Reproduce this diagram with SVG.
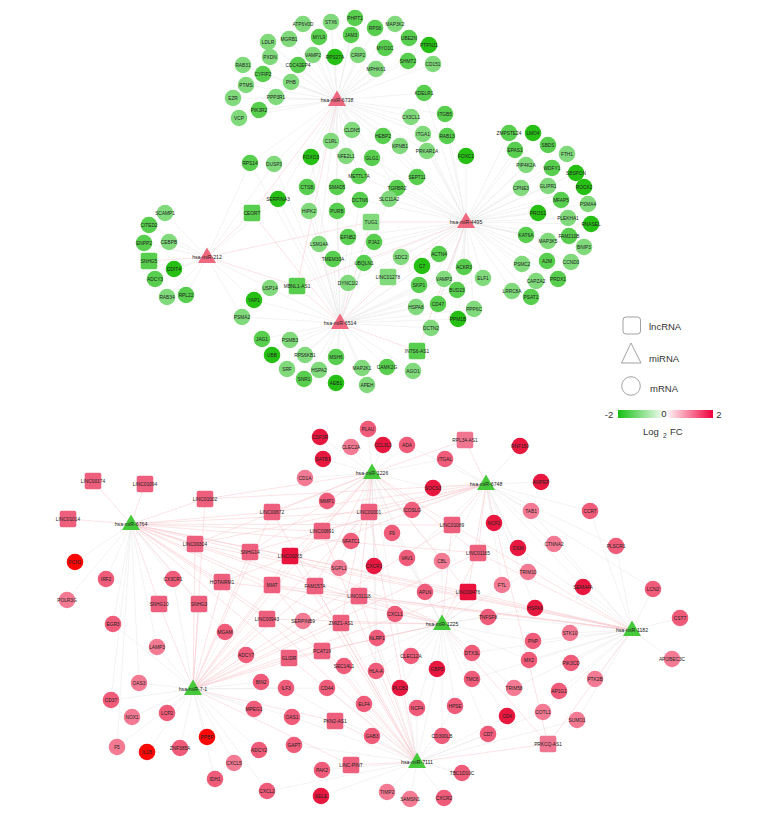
<svg xmlns="http://www.w3.org/2000/svg" xmlns:xlink="http://www.w3.org/1999/xlink" width="771" height="825" viewBox="0 0 771 825">
<style>
text{font-family:"Liberation Sans",Arial,sans-serif;font-size:4.8px;text-anchor:middle;dominant-baseline:central;fill:#222}
.hl{font-size:5.2px}
.lg{font-size:9.5px;text-anchor:start;fill:#333}
.gl{fill:#80da7c}.gm{fill:#57ce4d}.gd{fill:#26c014}
.rl{fill:#f37a92}.rm{fill:#ef5b79}.rd{fill:#e8173f}.rb{fill:#fd0606}
.sl{fill:#f07590}.sm{fill:#ee5f7e}.sd{fill:#e8123c}
.hp{fill:#f0687f}.hg{fill:#46c93a}
.e{stroke:#e6e6e6;stroke-width:.5;fill:none}
.p{stroke:#f8c6cd;stroke-width:.5;fill:none}
</style>
<defs>
<rect id="sq" x="-8.3" y="-8.3" width="16.6" height="16.6" rx="2"/>
<path id="tri" d="M0,-9.5L9,6H-9Z"/>
<linearGradient id="cb" x1="0" x2="1" y1="0" y2="0">
<stop offset="0" stop-color="#14c014"/><stop offset="0.5" stop-color="#ffffff"/><stop offset="1" stop-color="#f0003c"/>
</linearGradient>
</defs>
<rect width="771" height="825" fill="#fff"/>
<g id="connectors">
<path class="e" d="M337 100L303 24M337 100L331 22M337 100L355 18M337 100L319 37M337 100L351 35M337 100L268 42M337 100L289 39M337 100L335 57M337 100L313 55M337 100L358 55M337 100L270 57M337 100L243 65M337 100L298 65M337 100L263 74M337 100L291 82M337 100L246 85M337 100L233 98M337 100L276 97M337 100L259 110M337 100L239 118M337 100L375 28M337 100L395 24M337 100L409 38M337 100L429 45M337 100L385 48M337 100L408 61M337 100L433 64M337 100L376 69M337 100L424 93M337 100L352 130M337 100L331 141M337 100L445 114M337 100L411 117M337 100L383 136M337 100L423 134M337 100L447 136M337 100L400 146M337 100L427 151M337 100L372 158M337 100L417 177M337 100L397 188M337 100L250 163M337 100L274 164M337 100L311 157M337 100L346 156M337 100L359 176M337 100L307 187M337 100L337 187M337 100L309 211M337 100L337 211M337 100L319 244M337 100L278 199"/>
<path class="e" d="M466 222L509 133M466 222L533 133M466 222L515 150M466 222L548 145M466 222L567 154M466 222L526 165M466 222L552 168M466 222L576 173M466 222L521 188M466 222L548 186M466 222L584 187M466 222L561 200M466 222L588 204M466 222L538 213M466 222L568 218M466 222L591 224M466 222L526 235M466 222L548 241M466 222L569 236M466 222L584 247M466 222L522 264M466 222L547 261M466 222L571 262M466 222L536 281M466 222L558 279M466 222L512 291M466 222L531 297M466 222L466 156M466 222L445 114M466 222L411 117M466 222L383 136M466 222L423 134M466 222L447 136M466 222L400 146M466 222L427 151M466 222L372 158M466 222L417 177M466 222L397 188M466 222L359 176M466 222L346 156M466 222L360 200M466 222L389 199M466 222L348 237M466 222L333 259M466 222L374 242M466 222L364 263M466 222L348 283M466 222L401 257M466 222L439 254M466 222L422 266M466 222L464 267M466 222L444 279M466 222L483 278M466 222L419 285M466 222L457 290M466 222L416 307M466 222L438 304M466 222L474 309M466 222L458 319M466 222L431 328M466 222L424 93"/>
<path class="e" d="M340 323L262 339M340 323L290 340M340 323L272 355M340 323L305 355M340 323L336 357M340 323L287 369M340 323L319 370M340 323L362 368M340 323L387 367M340 323L413 371M340 323L304 379M340 323L336 383M340 323L367 385M340 323L270 288M340 323L254 300M340 323L242 317M340 323L348 283M340 323L364 263M340 323L374 242M340 323L401 257M340 323L333 259M340 323L319 244M340 323L348 237M340 323L309 211M340 323L337 211M340 323L278 199M340 323L360 200M340 323L389 199M340 323L439 254M340 323L422 266M340 323L464 267M340 323L444 279M340 323L483 278M340 323L419 285M340 323L457 290M340 323L416 307M340 323L438 304M340 323L474 309M340 323L458 319M340 323L431 328M340 323L307 187M340 323L337 187M340 323L250 163M340 323L274 164M340 323L311 157"/>
<path class="e" d="M207 257L165 213M207 257L149 225M207 257L144 243M207 257L169 242M207 257L174 269M207 257L155 279M207 257L167 297M207 257L186 295M207 257L270 288M207 257L254 300M207 257L242 317M207 257L250 163M207 257L274 164M207 257L278 199"/>
<path class="p" d="M337 100L252 213M337 100L297 286M466 222L371 222M466 222L388 277M466 222L417 351M466 222L297 286M340 323L252 213M340 323L297 286M340 323L371 222M340 323L388 277M340 323L417 351M207 257L149 261M207 257L252 213M207 257L297 286M207 257L371 222"/>
<path class="e" d="M131 524L75 562M131 524L106 579M131 524L173 579M131 524L67 600M131 524L113 624M131 524L157 647M131 524L111 700M131 524L117 747M131 524L139 683M131 524L225 632"/>
<path class="e" d="M372 473L368 429M372 473L320 437M372 473L351 447M372 473L383 445M372 473L407 445M372 473L323 459M372 473L445 459M372 473L305 478M372 473L433 488M372 473L327 501M372 473L412 510M372 473L392 533M372 473L351 541M372 473L407 558M372 473L339 568M372 473L374 566M372 473L442 561M372 473L425 592M372 473L377 638M372 473L376 671M372 473L395 614"/>
<path class="e" d="M486 484L520 446M486 484L541 482M486 484L531 511M486 484L494 523M486 484L518 548M486 484L554 544M486 484L590 511M486 484L445 459M486 484L433 488M486 484L528 572M486 484L502 585M486 484L442 561M486 484L412 510M486 484L583 587M486 484L616 546M486 484L407 445M486 484L407 558M486 484L535 608M486 484L653 589"/>
<path class="e" d="M442 624L395 614M442 624L377 638M442 624L411 656M442 624L472 653M442 624L376 671M442 624L437 669M442 624L472 679M442 624L400 688M442 624L417 708M442 624L455 706M442 624L488 617M442 624L425 592M442 624L442 561M442 624L407 558M442 624L392 533M442 624L502 585M442 624L528 572M442 624L533 641M442 624L529 660M442 624L514 688M442 624L442 736M442 624L507 716M442 624L488 734M442 624L344 666M442 624L535 608"/>
<path class="e" d="M632 630L680 618M632 630L672 659M632 630L570 633M632 630L535 608M632 630L533 641M632 630L529 660M632 630L571 663M632 630L595 679M632 630L559 691M632 630L514 688M632 630L583 587M632 630L653 589M632 630L616 546M632 630L590 511M632 630L577 720M632 630L543 712M632 630L488 617M632 630L472 653M632 630L472 679M632 630L554 544M632 630L531 511M632 630L518 548"/>
<path class="e" d="M193 689L225 632M193 689L157 647M193 689L246 655M193 689L139 683M193 689L261 682M193 689L111 700M193 689L132 717M193 689L167 713M193 689L254 709M193 689L207 737M193 689L117 747M193 689L147 752M193 689L180 748M193 689L259 750M193 689L234 763M193 689L215 779M193 689L267 791M193 689L286 688M193 689L113 624M193 689L173 579M193 689L327 688M193 689L292 717"/>
<path class="e" d="M417 762L322 770M417 762L321 796M417 762L387 792M417 762L410 799M417 762L444 798M417 762L462 773M417 762L372 736M417 762L442 736M417 762L488 734M417 762L364 704M417 762L417 708M417 762L294 745M417 762L292 717M417 762L327 688M417 762L376 671M417 762L507 716M417 762L543 712M417 762L455 706M417 762L400 688M417 762L267 791M417 762L286 688M417 762L344 666M417 762L377 638M417 762L437 669M417 762L395 614M417 762L577 720"/>
<path class="p" d="M131 524L93 481M131 524L145 484M131 524L68 519M131 524L205 499M131 524L195 544M131 524L250 552M131 524L272 512M131 524L322 531M131 524L290 556M131 524L222 582M131 524L272 585M131 524L159 604M131 524L199 604M131 524L315 586M131 524L359 596M131 524L468 592M131 524L478 553M131 524L452 525M131 524L369 512M131 524L267 619M131 524L341 623M131 524L322 651M131 524L289 658"/>
<path class="p" d="M372 473L369 512M372 473L322 531M372 473L272 512M372 473L465 440M372 473L290 556M372 473L359 596M372 473L315 586M372 473L205 499M372 473L195 544M372 473L250 552M372 473L452 525M372 473L272 585M372 473L341 623M372 473L468 592M372 473L478 553"/>
<path class="p" d="M486 484L465 440M486 484L452 525M486 484L478 553M486 484L468 592M486 484L369 512M486 484L272 512M486 484L322 531M486 484L205 499M486 484L195 544M486 484L250 552M486 484L548 744M486 484L222 582"/>
<path class="p" d="M442 624L468 592M442 624L478 553M442 624L359 596M442 624L341 623M442 624L322 651M442 624L289 658M442 624L267 619M442 624L272 585M442 624L315 586M442 624L452 525M442 624L548 744M442 624L290 556"/>
<path class="p" d="M632 630L548 744M632 630L468 592M632 630L478 553M632 630L452 525M632 630L195 544M632 630L250 552M632 630L290 556M632 630L272 585M632 630L222 582M632 630L359 596"/>
<path class="p" d="M193 689L159 604M193 689L199 604M193 689L195 544M193 689L222 582M193 689L250 552M193 689L272 585M193 689L267 619M193 689L289 658M193 689L322 651M193 689L341 623M193 689L335 721M193 689L351 765M193 689L290 556M193 689L315 586M193 689L359 596M193 689L322 531M193 689L272 512M193 689L205 499M193 689L468 592M193 689L478 553M193 689L452 525M193 689L369 512"/>
<path class="p" d="M417 762L351 765M417 762L335 721M417 762L322 651M417 762L289 658M417 762L341 623M417 762L267 619M417 762L548 744M417 762L359 596M417 762L272 585M417 762L315 586M417 762L290 556M417 762L322 531M417 762L369 512M417 762L272 512"/>
</g>
<g id="nodes-top">
<g id="ATP6V0D"><circle class="gl" cx="303" cy="24" r="8.3"/><text x="303" y="24">ATP6V0D</text></g>
<g id="STX6"><circle class="gl" cx="331" cy="22" r="8.3"/><text x="331" y="22">STX6</text></g>
<g id="PHPT1"><circle class="gm" cx="355" cy="18" r="8.3"/><text x="355" y="18">PHPT1</text></g>
<g id="MYL9"><circle class="gm" cx="319" cy="37" r="8.3"/><text x="319" y="37">MYL9</text></g>
<g id="JAM3"><circle class="gm" cx="351" cy="35" r="8.3"/><text x="351" y="35">JAM3</text></g>
<g id="LDLR"><circle class="gl" cx="268" cy="42" r="8.3"/><text x="268" y="42">LDLR</text></g>
<g id="MGRB1"><circle class="gl" cx="289" cy="39" r="8.3"/><text x="289" y="39">MGRB1</text></g>
<g id="RPS27A"><circle class="gd" cx="335" cy="57" r="8.3"/><text x="335" y="57">RPS27A</text></g>
<g id="VAMP2"><circle class="gl" cx="313" cy="55" r="8.3"/><text x="313" y="55">VAMP2</text></g>
<g id="CRIP2"><circle class="gl" cx="358" cy="55" r="8.3"/><text x="358" y="55">CRIP2</text></g>
<g id="PXDN"><circle class="gl" cx="270" cy="57" r="8.3"/><text x="270" y="57">PXDN</text></g>
<g id="RAB31"><circle class="gl" cx="243" cy="65" r="8.3"/><text x="243" y="65">RAB31</text></g>
<g id="CDC42EP4"><circle class="gm" cx="298" cy="65" r="8.3"/><text x="298" y="65">CDC42EP4</text></g>
<g id="CYFIP2"><circle class="gm" cx="263" cy="74" r="8.3"/><text x="263" y="74">CYFIP2</text></g>
<g id="PHB"><circle class="gl" cx="291" cy="82" r="8.3"/><text x="291" y="82">PHB</text></g>
<g id="PTMS"><circle class="gl" cx="246" cy="85" r="8.3"/><text x="246" y="85">PTMS</text></g>
<g id="EZR"><circle class="gl" cx="233" cy="98" r="8.3"/><text x="233" y="98">EZR</text></g>
<g id="PPP3R1"><circle class="gl" cx="276" cy="97" r="8.3"/><text x="276" y="97">PPP3R1</text></g>
<g id="PIK3R2"><circle class="gm" cx="259" cy="110" r="8.3"/><text x="259" y="110">PIK3R2</text></g>
<g id="VCP"><circle class="gl" cx="239" cy="118" r="8.3"/><text x="239" y="118">VCP</text></g>
<g id="RPS6"><circle class="gm" cx="375" cy="28" r="8.3"/><text x="375" y="28">RPS6</text></g>
<g id="MAP3K2"><circle class="gl" cx="395" cy="24" r="8.3"/><text x="395" y="24">MAP3K2</text></g>
<g id="UBE2N"><circle class="gm" cx="409" cy="38" r="8.3"/><text x="409" y="38">UBE2N</text></g>
<g id="PTPN11"><circle class="gd" cx="429" cy="45" r="8.3"/><text x="429" y="45">PTPN11</text></g>
<g id="MYO1C"><circle class="gm" cx="385" cy="48" r="8.3"/><text x="385" y="48">MYO1C</text></g>
<g id="SHMT2"><circle class="gm" cx="408" cy="61" r="8.3"/><text x="408" y="61">SHMT2</text></g>
<g id="CD151"><circle class="gl" cx="433" cy="64" r="8.3"/><text x="433" y="64">CD151</text></g>
<g id="MPHK61"><circle class="gl" cx="376" cy="69" r="8.3"/><text x="376" y="69">MPHK61</text></g>
<g id="KDELR1"><circle class="gm" cx="424" cy="93" r="8.3"/><text x="424" y="93">KDELR1</text></g>
<g id="CLDN5"><circle class="gl" cx="352" cy="130" r="8.3"/><text x="352" y="130">CLDN5</text></g>
<g id="C1RL"><circle class="gl" cx="331" cy="141" r="8.3"/><text x="331" y="141">C1RL</text></g>
<g id="ITGB5"><circle class="gm" cx="445" cy="114" r="8.3"/><text x="445" y="114">ITGB5</text></g>
<g id="CX3CL1"><circle class="gl" cx="411" cy="117" r="8.3"/><text x="411" y="117">CX3CL1</text></g>
<g id="HEBP2"><circle class="gm" cx="383" cy="136" r="8.3"/><text x="383" y="136">HEBP2</text></g>
<g id="ITGA1"><circle class="gl" cx="423" cy="134" r="8.3"/><text x="423" y="134">ITGA1</text></g>
<g id="RAB13"><circle class="gm" cx="447" cy="136" r="8.3"/><text x="447" y="136">RAB13</text></g>
<g id="KPNB1"><circle class="gl" cx="400" cy="146" r="8.3"/><text x="400" y="146">KPNB1</text></g>
<g id="PRKAR1A"><circle class="gl" cx="427" cy="151" r="8.3"/><text x="427" y="151">PRKAR1A</text></g>
<g id="FOXC1"><circle class="gd" cx="466" cy="156" r="8.3"/><text x="466" y="156">FOXC1</text></g>
<g id="GLG1"><circle class="gm" cx="372" cy="158" r="8.3"/><text x="372" y="158">GLG1</text></g>
<g id="SEPT11"><circle class="gm" cx="417" cy="177" r="8.3"/><text x="417" y="177">SEPT11</text></g>
<g id="TGFBR2"><circle class="gm" cx="397" cy="188" r="8.3"/><text x="397" y="188">TGFBR2</text></g>
<g id="RPS14"><circle class="gm" cx="250" cy="163" r="8.3"/><text x="250" y="163">RPS14</text></g>
<g id="DUSP3"><circle class="gl" cx="274" cy="164" r="8.3"/><text x="274" y="164">DUSP3</text></g>
<g id="FOXO3"><circle class="gd" cx="311" cy="157" r="8.3"/><text x="311" y="157">FOXO3</text></g>
<g id="NFE2L1"><circle class="gl" cx="346" cy="156" r="8.3"/><text x="346" y="156">NFE2L1</text></g>
<g id="METTL7A"><circle class="gm" cx="359" cy="176" r="8.3"/><text x="359" y="176">METTL7A</text></g>
<g id="CTSB"><circle class="gm" cx="307" cy="187" r="8.3"/><text x="307" y="187">CTSB</text></g>
<g id="SMAD5"><circle class="gm" cx="337" cy="187" r="8.3"/><text x="337" y="187">SMAD5</text></g>
<g id="SERPINA3"><circle class="gd" cx="278" cy="199" r="8.3"/><text x="278" y="199">SERPINA3</text></g>
<g id="HIPK2"><circle class="gl" cx="309" cy="211" r="8.3"/><text x="309" y="211">HIPK2</text></g>
<g id="PURB"><circle class="gm" cx="337" cy="211" r="8.3"/><text x="337" y="211">PURB</text></g>
<g id="DCTN6"><circle class="gm" cx="360" cy="200" r="8.3"/><text x="360" y="200">DCTN6</text></g>
<g id="SLC11A2"><circle class="gl" cx="389" cy="199" r="8.3"/><text x="389" y="199">SLC11A2</text></g>
<g id="CEORT"><use xlink:href="#sq" x="252" y="213" class="gm"/><text x="252" y="213">CEORT</text></g>
<g id="LSM14A"><circle class="gl" cx="319" cy="244" r="8.3"/><text x="319" y="244">LSM14A</text></g>
<g id="EFNB2"><circle class="gm" cx="348" cy="237" r="8.3"/><text x="348" y="237">EFNB2</text></g>
<g id="TMEM30A"><circle class="gm" cx="333" cy="259" r="8.3"/><text x="333" y="259">TMEM30A</text></g>
<g id="TUG1"><use xlink:href="#sq" x="371" y="222" class="gl"/><text x="371" y="222">TUG1</text></g>
<g id="PJA2"><circle class="gm" cx="374" cy="242" r="8.3"/><text x="374" y="242">PJA2</text></g>
<g id="UBQLN1"><circle class="gm" cx="364" cy="263" r="8.3"/><text x="364" y="263">UBQLN1</text></g>
<g id="DYNC1I2"><circle class="gl" cx="348" cy="283" r="8.3"/><text x="348" y="283">DYNC1I2</text></g>
<g id="MBNL1-AS1"><use xlink:href="#sq" x="297" y="286" class="gm"/><text x="297" y="286">MBNL1-AS1</text></g>
<g id="USP14"><circle class="gl" cx="270" cy="288" r="8.3"/><text x="270" y="288">USP14</text></g>
<g id="YAP1"><circle class="gd" cx="254" cy="300" r="8.3"/><text x="254" y="300">YAP1</text></g>
<g id="PSMA2"><circle class="gl" cx="242" cy="317" r="8.3"/><text x="242" y="317">PSMA2</text></g>
<g id="SDC2"><circle class="gl" cx="401" cy="257" r="8.3"/><text x="401" y="257">SDC2</text></g>
<g id="LINC01278"><use xlink:href="#sq" x="388" y="277" class="gl"/><text x="388" y="277">LINC01278</text></g>
<g id="ACTN4"><circle class="gm" cx="439" cy="254" r="8.3"/><text x="439" y="254">ACTN4</text></g>
<g id="C7"><circle class="gd" cx="422" cy="266" r="8.3"/><text x="422" y="266">C7</text></g>
<g id="ACKR3"><circle class="gm" cx="464" cy="267" r="8.3"/><text x="464" y="267">ACKR3</text></g>
<g id="VAMP3"><circle class="gl" cx="444" cy="279" r="8.3"/><text x="444" y="279">VAMP3</text></g>
<g id="ELF1"><circle class="gl" cx="483" cy="278" r="8.3"/><text x="483" y="278">ELF1</text></g>
<g id="SKP1"><circle class="gm" cx="419" cy="285" r="8.3"/><text x="419" y="285">SKP1</text></g>
<g id="BUD23"><circle class="gm" cx="457" cy="290" r="8.3"/><text x="457" y="290">BUD23</text></g>
<g id="HSPA8"><circle class="gl" cx="416" cy="307" r="8.3"/><text x="416" y="307">HSPA8</text></g>
<g id="CD47"><circle class="gm" cx="438" cy="304" r="8.3"/><text x="438" y="304">CD47</text></g>
<g id="PPP6C"><circle class="gl" cx="474" cy="309" r="8.3"/><text x="474" y="309">PPP6C</text></g>
<g id="PPM1B"><circle class="gd" cx="458" cy="319" r="8.3"/><text x="458" y="319">PPM1B</text></g>
<g id="DCTN2"><circle class="gl" cx="431" cy="328" r="8.3"/><text x="431" y="328">DCTN2</text></g>
<g id="INTS6-AS1"><use xlink:href="#sq" x="417" y="351" class="gm"/><text x="417" y="351">INTS6-AS1</text></g>
<g id="SCAMP1"><circle class="gl" cx="165" cy="213" r="8.3"/><text x="165" y="213">SCAMP1</text></g>
<g id="CITED2"><circle class="gm" cx="149" cy="225" r="8.3"/><text x="149" y="225">CITED2</text></g>
<g id="ENPP2"><circle class="gm" cx="144" cy="243" r="8.3"/><text x="144" y="243">ENPP2</text></g>
<g id="CEBPB"><circle class="gl" cx="169" cy="242" r="8.3"/><text x="169" y="242">CEBPB</text></g>
<g id="SNHG5"><use xlink:href="#sq" x="149" y="261" class="gm"/><text x="149" y="261">SNHG5</text></g>
<g id="DDIT4"><circle class="gd" cx="174" cy="269" r="8.3"/><text x="174" y="269">DDIT4</text></g>
<g id="ADCY3"><circle class="gm" cx="155" cy="279" r="8.3"/><text x="155" y="279">ADCY3</text></g>
<g id="RAB34"><circle class="gl" cx="167" cy="297" r="8.3"/><text x="167" y="297">RAB34</text></g>
<g id="RPL22"><circle class="gm" cx="186" cy="295" r="8.3"/><text x="186" y="295">RPL22</text></g>
<g id="ZMPSTE24"><circle class="gm" cx="509" cy="133" r="8.3"/><text x="509" y="133">ZMPSTE24</text></g>
<g id="LMO4"><circle class="gd" cx="533" cy="133" r="8.3"/><text x="533" y="133">LMO4</text></g>
<g id="EPAS1"><circle class="gm" cx="515" cy="150" r="8.3"/><text x="515" y="150">EPAS1</text></g>
<g id="SBDS"><circle class="gm" cx="548" cy="145" r="8.3"/><text x="548" y="145">SBDS</text></g>
<g id="FTH1"><circle class="gl" cx="567" cy="154" r="8.3"/><text x="567" y="154">FTH1</text></g>
<g id="PIP4K2A"><circle class="gl" cx="526" cy="165" r="8.3"/><text x="526" y="165">PIP4K2A</text></g>
<g id="WDFY1"><circle class="gm" cx="552" cy="168" r="8.3"/><text x="552" y="168">WDFY1</text></g>
<g id="SBSPON"><circle class="gd" cx="576" cy="173" r="8.3"/><text x="576" y="173">SBSPON</text></g>
<g id="CPNE3"><circle class="gl" cx="521" cy="188" r="8.3"/><text x="521" y="188">CPNE3</text></g>
<g id="GLIPR1"><circle class="gl" cx="548" cy="186" r="8.3"/><text x="548" y="186">GLIPR1</text></g>
<g id="ROCK2"><circle class="gd" cx="584" cy="187" r="8.3"/><text x="584" y="187">ROCK2</text></g>
<g id="MFAP5"><circle class="gm" cx="561" cy="200" r="8.3"/><text x="561" y="200">MFAP5</text></g>
<g id="PSMA4"><circle class="gl" cx="588" cy="204" r="8.3"/><text x="588" y="204">PSMA4</text></g>
<g id="PROS1"><circle class="gd" cx="538" cy="213" r="8.3"/><text x="538" y="213">PROS1</text></g>
<g id="PLEKHA1"><circle class="gl" cx="568" cy="218" r="8.3"/><text x="568" y="218">PLEKHA1</text></g>
<g id="RNASEL"><circle class="gd" cx="591" cy="224" r="8.3"/><text x="591" y="224">RNASEL</text></g>
<g id="KAT6A"><circle class="gm" cx="526" cy="235" r="8.3"/><text x="526" y="235">KAT6A</text></g>
<g id="MAP3K5"><circle class="gl" cx="548" cy="241" r="8.3"/><text x="548" y="241">MAP3K5</text></g>
<g id="FAM210B"><circle class="gm" cx="569" cy="236" r="8.3"/><text x="569" y="236">FAM210B</text></g>
<g id="BNIP3"><circle class="gl" cx="584" cy="247" r="8.3"/><text x="584" y="247">BNIP3</text></g>
<g id="PSMC2"><circle class="gl" cx="522" cy="264" r="8.3"/><text x="522" y="264">PSMC2</text></g>
<g id="A2M"><circle class="gm" cx="547" cy="261" r="8.3"/><text x="547" y="261">A2M</text></g>
<g id="CCND3"><circle class="gl" cx="571" cy="262" r="8.3"/><text x="571" y="262">CCND3</text></g>
<g id="CAPZA2"><circle class="gl" cx="536" cy="281" r="8.3"/><text x="536" y="281">CAPZA2</text></g>
<g id="PRDX1"><circle class="gm" cx="558" cy="279" r="8.3"/><text x="558" y="279">PRDX1</text></g>
<g id="LRRC8A"><circle class="gl" cx="512" cy="291" r="8.3"/><text x="512" y="291">LRRC8A</text></g>
<g id="PSAT1"><circle class="gm" cx="531" cy="297" r="8.3"/><text x="531" y="297">PSAT1</text></g>
<g id="JAG1"><circle class="gm" cx="262" cy="339" r="8.3"/><text x="262" y="339">JAG1</text></g>
<g id="PSMB3"><circle class="gl" cx="290" cy="340" r="8.3"/><text x="290" y="340">PSMB3</text></g>
<g id="UBB"><circle class="gd" cx="272" cy="355" r="8.3"/><text x="272" y="355">UBB</text></g>
<g id="RPS6KB1"><circle class="gl" cx="305" cy="355" r="8.3"/><text x="305" y="355">RPS6KB1</text></g>
<g id="MSH6"><circle class="gm" cx="336" cy="357" r="8.3"/><text x="336" y="357">MSH6</text></g>
<g id="SRF"><circle class="gl" cx="287" cy="369" r="8.3"/><text x="287" y="369">SRF</text></g>
<g id="HSPA2"><circle class="gl" cx="319" cy="370" r="8.3"/><text x="319" y="370">HSPA2</text></g>
<g id="MAP2K1"><circle class="gl" cx="362" cy="368" r="8.3"/><text x="362" y="368">MAP2K1</text></g>
<g id="CAMK2G"><circle class="gm" cx="387" cy="367" r="8.3"/><text x="387" y="367">CAMK2G</text></g>
<g id="AGO1"><circle class="gl" cx="413" cy="371" r="8.3"/><text x="413" y="371">AGO1</text></g>
<g id="SNR1"><circle class="gm" cx="304" cy="379" r="8.3"/><text x="304" y="379">SNR1</text></g>
<g id="AEB1"><circle class="gd" cx="336" cy="383" r="8.3"/><text x="336" y="383">AEB1</text></g>
<g id="APEH"><circle class="gl" cx="367" cy="385" r="8.3"/><text x="367" y="385">APEH</text></g>
<g id="hsa-miR-6738"><use xlink:href="#tri" x="337" y="100" class="hp"/><text class="hl" x="337" y="100">hsa-miR-6738</text></g>
<g id="hsa-miR-212"><use xlink:href="#tri" x="207" y="257" class="hp"/><text class="hl" x="207" y="257">hsa-miR-212</text></g>
<g id="hsa-miR-4495"><use xlink:href="#tri" x="466" y="222" class="hp"/><text class="hl" x="466" y="222">hsa-miR-4495</text></g>
<g id="hsa-miR-6514"><use xlink:href="#tri" x="340" y="323" class="hp"/><text class="hl" x="340" y="323">hsa-miR-6514</text></g>
</g>
<g id="nodes-bottom">
<g id="LINC00174"><use xlink:href="#sq" x="93" y="481" class="sm"/><text x="93" y="481">LINC00174</text></g>
<g id="LINC01094"><use xlink:href="#sq" x="145" y="484" class="sm"/><text x="145" y="484">LINC01094</text></g>
<g id="LINC01002"><use xlink:href="#sq" x="205" y="499" class="sm"/><text x="205" y="499">LINC01002</text></g>
<g id="LINC01014"><use xlink:href="#sq" x="68" y="519" class="sm"/><text x="68" y="519">LINC01014</text></g>
<g id="LINC00304"><use xlink:href="#sq" x="195" y="544" class="sm"/><text x="195" y="544">LINC00304</text></g>
<g id="SNHG14"><use xlink:href="#sq" x="250" y="552" class="sm"/><text x="250" y="552">SNHG14</text></g>
<g id="HOTAIRM1"><use xlink:href="#sq" x="222" y="582" class="sm"/><text x="222" y="582">HOTAIRM1</text></g>
<g id="SNHG10"><use xlink:href="#sq" x="159" y="604" class="sm"/><text x="159" y="604">SNHG10</text></g>
<g id="SNHG3"><use xlink:href="#sq" x="199" y="604" class="sm"/><text x="199" y="604">SNHG3</text></g>
<g id="LINC00672"><use xlink:href="#sq" x="272" y="512" class="sm"/><text x="272" y="512">LINC00672</text></g>
<g id="RPL34-AS1"><use xlink:href="#sq" x="465" y="440" class="sl"/><text x="465" y="440">RPL34-AS1</text></g>
<g id="LINC01001"><use xlink:href="#sq" x="369" y="512" class="sm"/><text x="369" y="512">LINC01001</text></g>
<g id="LINC00891"><use xlink:href="#sq" x="322" y="531" class="sm"/><text x="322" y="531">LINC00891</text></g>
<g id="LINC01089"><use xlink:href="#sq" x="452" y="525" class="sm"/><text x="452" y="525">LINC01089</text></g>
<g id="LINC00265"><use xlink:href="#sq" x="290" y="556" class="sd"/><text x="290" y="556">LINC00265</text></g>
<g id="LINC01165"><use xlink:href="#sq" x="478" y="553" class="sm"/><text x="478" y="553">LINC01165</text></g>
<g id="MIAT"><use xlink:href="#sq" x="272" y="585" class="sm"/><text x="272" y="585">MIAT</text></g>
<g id="FAM157A"><use xlink:href="#sq" x="315" y="586" class="sm"/><text x="315" y="586">FAM157A</text></g>
<g id="LINC01118"><use xlink:href="#sq" x="359" y="596" class="sm"/><text x="359" y="596">LINC01118</text></g>
<g id="LINC00476"><use xlink:href="#sq" x="468" y="592" class="sd"/><text x="468" y="592">LINC00476</text></g>
<g id="LINC00943"><use xlink:href="#sq" x="267" y="619" class="sm"/><text x="267" y="619">LINC00943</text></g>
<g id="ZMIZ1-AS1"><use xlink:href="#sq" x="341" y="623" class="sm"/><text x="341" y="623">ZMIZ1-AS1</text></g>
<g id="PCAT19"><use xlink:href="#sq" x="322" y="651" class="sm"/><text x="322" y="651">PCAT19</text></g>
<g id="GLIDR"><use xlink:href="#sq" x="289" y="658" class="sm"/><text x="289" y="658">GLIDR</text></g>
<g id="PKN2-AS1"><use xlink:href="#sq" x="335" y="721" class="sm"/><text x="335" y="721">PKN2-AS1</text></g>
<g id="LINC-PINT"><use xlink:href="#sq" x="351" y="765" class="sm"/><text x="351" y="765">LINC-PINT</text></g>
<g id="PRKCQ-AS1"><use xlink:href="#sq" x="548" y="744" class="sl"/><text x="548" y="744">PRKCQ-AS1</text></g>
<g id="FCN1"><circle class="rb" cx="75" cy="562" r="8.3"/><text x="75" y="562">FCN1</text></g>
<g id="IRF2"><circle class="rm" cx="106" cy="579" r="8.3"/><text x="106" y="579">IRF2</text></g>
<g id="CX3CR1"><circle class="rm" cx="173" cy="579" r="8.3"/><text x="173" y="579">CX3CR1</text></g>
<g id="POLR3G"><circle class="rl" cx="67" cy="600" r="8.3"/><text x="67" y="600">POLR3G</text></g>
<g id="EGR3"><circle class="rm" cx="113" cy="624" r="8.3"/><text x="113" y="624">EGR3</text></g>
<g id="MGAM"><circle class="rm" cx="225" cy="632" r="8.3"/><text x="225" y="632">MGAM</text></g>
<g id="LAMP3"><circle class="rl" cx="157" cy="647" r="8.3"/><text x="157" y="647">LAMP3</text></g>
<g id="ADCY7"><circle class="rm" cx="246" cy="655" r="8.3"/><text x="246" y="655">ADCY7</text></g>
<g id="OAS3"><circle class="rl" cx="139" cy="683" r="8.3"/><text x="139" y="683">OAS3</text></g>
<g id="BIN2"><circle class="rm" cx="261" cy="682" r="8.3"/><text x="261" y="682">BIN2</text></g>
<g id="CD37"><circle class="rm" cx="111" cy="700" r="8.3"/><text x="111" y="700">CD37</text></g>
<g id="NOX1"><circle class="rl" cx="132" cy="717" r="8.3"/><text x="132" y="717">NOX1</text></g>
<g id="LCP2"><circle class="rm" cx="167" cy="713" r="8.3"/><text x="167" y="713">LCP2</text></g>
<g id="MPEG1"><circle class="rm" cx="254" cy="709" r="8.3"/><text x="254" y="709">MPEG1</text></g>
<g id="PPBP"><circle class="rb" cx="207" cy="737" r="8.3"/><text x="207" y="737">PPBP</text></g>
<g id="F5"><circle class="rl" cx="117" cy="747" r="8.3"/><text x="117" y="747">F5</text></g>
<g id="IL1B"><circle class="rb" cx="147" cy="752" r="8.3"/><text x="147" y="752">IL1B</text></g>
<g id="ZNF385A"><circle class="rm" cx="180" cy="748" r="8.3"/><text x="180" y="748">ZNF385A</text></g>
<g id="ADCY2"><circle class="rm" cx="259" cy="750" r="8.3"/><text x="259" y="750">ADCY2</text></g>
<g id="CXCL5"><circle class="rl" cx="234" cy="763" r="8.3"/><text x="234" y="763">CXCL5</text></g>
<g id="IDH1"><circle class="rm" cx="215" cy="779" r="8.3"/><text x="215" y="779">IDH1</text></g>
<g id="CXCL2"><circle class="rm" cx="267" cy="791" r="8.3"/><text x="267" y="791">CXCL2</text></g>
<g id="PLAU"><circle class="rm" cx="368" cy="429" r="8.3"/><text x="368" y="429">PLAU</text></g>
<g id="CSF3R"><circle class="rd" cx="320" cy="437" r="8.3"/><text x="320" y="437">CSF3R</text></g>
<g id="CLEC2A"><circle class="rl" cx="351" cy="447" r="8.3"/><text x="351" y="447">CLEC2A</text></g>
<g id="CCL3L3"><circle class="rd" cx="383" cy="445" r="8.3"/><text x="383" y="445">CCL3L3</text></g>
<g id="ADA"><circle class="rm" cx="407" cy="445" r="8.3"/><text x="407" y="445">ADA</text></g>
<g id="SATB1"><circle class="rd" cx="323" cy="459" r="8.3"/><text x="323" y="459">SATB1</text></g>
<g id="ITGAL"><circle class="rm" cx="445" cy="459" r="8.3"/><text x="445" y="459">ITGAL</text></g>
<g id="CD1A"><circle class="rl" cx="305" cy="478" r="8.3"/><text x="305" y="478">CD1A</text></g>
<g id="SOCS3"><circle class="rd" cx="433" cy="488" r="8.3"/><text x="433" y="488">SOCS3</text></g>
<g id="MMP1"><circle class="rm" cx="327" cy="501" r="8.3"/><text x="327" y="501">MMP1</text></g>
<g id="ICOSLG"><circle class="rm" cx="412" cy="510" r="8.3"/><text x="412" y="510">ICOSLG</text></g>
<g id="NCF2"><circle class="rd" cx="494" cy="523" r="8.3"/><text x="494" y="523">NCF2</text></g>
<g id="F9"><circle class="rm" cx="392" cy="533" r="8.3"/><text x="392" y="533">F9</text></g>
<g id="NFATC1"><circle class="rm" cx="351" cy="541" r="8.3"/><text x="351" y="541">NFATC1</text></g>
<g id="VAV1"><circle class="rm" cx="407" cy="558" r="8.3"/><text x="407" y="558">VAV1</text></g>
<g id="CBL"><circle class="rl" cx="442" cy="561" r="8.3"/><text x="442" y="561">CBL</text></g>
<g id="SGPL1"><circle class="rl" cx="339" cy="568" r="8.3"/><text x="339" y="568">SGPL1</text></g>
<g id="CXCR1"><circle class="rd" cx="374" cy="566" r="8.3"/><text x="374" y="566">CXCR1</text></g>
<g id="APLN"><circle class="rm" cx="425" cy="592" r="8.3"/><text x="425" y="592">APLN</text></g>
<g id="RNF150"><circle class="rd" cx="520" cy="446" r="8.3"/><text x="520" y="446">RNF150</text></g>
<g id="ANPEP"><circle class="rd" cx="541" cy="482" r="8.3"/><text x="541" y="482">ANPEP</text></g>
<g id="TAB1"><circle class="rl" cx="531" cy="511" r="8.3"/><text x="531" y="511">TAB1</text></g>
<g id="CCR7"><circle class="rm" cx="590" cy="511" r="8.3"/><text x="590" y="511">CCR7</text></g>
<g id="OSM"><circle class="rd" cx="518" cy="548" r="8.3"/><text x="518" y="548">OSM</text></g>
<g id="CTNNA2"><circle class="rl" cx="554" cy="544" r="8.3"/><text x="554" y="544">CTNNA2</text></g>
<g id="PLSCR1"><circle class="rm" cx="616" cy="546" r="8.3"/><text x="616" y="546">PLSCR1</text></g>
<g id="TRIM10"><circle class="rl" cx="528" cy="572" r="8.3"/><text x="528" y="572">TRIM10</text></g>
<g id="FTL"><circle class="rl" cx="502" cy="585" r="8.3"/><text x="502" y="585">FTL</text></g>
<g id="SEMA4A"><circle class="rd" cx="583" cy="587" r="8.3"/><text x="583" y="587">SEMA4A</text></g>
<g id="LCN2"><circle class="rm" cx="653" cy="589" r="8.3"/><text x="653" y="589">LCN2</text></g>
<g id="SERPINB9"><circle class="rl" cx="303" cy="621" r="8.3"/><text x="303" y="621">SERPINB9</text></g>
<g id="CXCL1"><circle class="rm" cx="395" cy="614" r="8.3"/><text x="395" y="614">CXCL1</text></g>
<g id="TNFSF8"><circle class="rm" cx="488" cy="617" r="8.3"/><text x="488" y="617">TNFSF8</text></g>
<g id="NLRP1"><circle class="rm" cx="377" cy="638" r="8.3"/><text x="377" y="638">NLRP1</text></g>
<g id="CLEC12A"><circle class="rm" cx="411" cy="656" r="8.3"/><text x="411" y="656">CLEC12A</text></g>
<g id="DTX3L"><circle class="rm" cx="472" cy="653" r="8.3"/><text x="472" y="653">DTX3L</text></g>
<g id="SEC14L1"><circle class="rm" cx="344" cy="666" r="8.3"/><text x="344" y="666">SEC14L1</text></g>
<g id="HLA-A"><circle class="rm" cx="376" cy="671" r="8.3"/><text x="376" y="671">HLA-A</text></g>
<g id="GBP5"><circle class="rd" cx="437" cy="669" r="8.3"/><text x="437" y="669">GBP5</text></g>
<g id="TMC6"><circle class="rm" cx="472" cy="679" r="8.3"/><text x="472" y="679">TMC6</text></g>
<g id="ILF3"><circle class="rm" cx="286" cy="688" r="8.3"/><text x="286" y="688">ILF3</text></g>
<g id="CD44"><circle class="rm" cx="327" cy="688" r="8.3"/><text x="327" y="688">CD44</text></g>
<g id="PLCB2"><circle class="rd" cx="400" cy="688" r="8.3"/><text x="400" y="688">PLCB2</text></g>
<g id="ELF4"><circle class="rm" cx="364" cy="704" r="8.3"/><text x="364" y="704">ELF4</text></g>
<g id="NCF4"><circle class="rm" cx="417" cy="708" r="8.3"/><text x="417" y="708">NCF4</text></g>
<g id="HPSE"><circle class="rm" cx="455" cy="706" r="8.3"/><text x="455" y="706">HPSE</text></g>
<g id="OAS1"><circle class="rm" cx="292" cy="717" r="8.3"/><text x="292" y="717">OAS1</text></g>
<g id="GAB3"><circle class="rm" cx="372" cy="736" r="8.3"/><text x="372" y="736">GAB3</text></g>
<g id="CD300LB"><circle class="rm" cx="442" cy="736" r="8.3"/><text x="442" y="736">CD300LB</text></g>
<g id="CD7"><circle class="rm" cx="488" cy="734" r="8.3"/><text x="488" y="734">CD7</text></g>
<g id="GAPT"><circle class="rm" cx="294" cy="745" r="8.3"/><text x="294" y="745">GAPT</text></g>
<g id="PAK2"><circle class="rm" cx="322" cy="770" r="8.3"/><text x="322" y="770">PAK2</text></g>
<g id="TBC1D10C"><circle class="rm" cx="462" cy="773" r="8.3"/><text x="462" y="773">TBC1D10C</text></g>
<g id="SELE"><circle class="rd" cx="321" cy="796" r="8.3"/><text x="321" y="796">SELE</text></g>
<g id="TIMP2"><circle class="rl" cx="387" cy="792" r="8.3"/><text x="387" y="792">TIMP2</text></g>
<g id="SAMSN1"><circle class="rl" cx="410" cy="799" r="8.3"/><text x="410" y="799">SAMSN1</text></g>
<g id="CXCR2"><circle class="rm" cx="444" cy="798" r="8.3"/><text x="444" y="798">CXCR2</text></g>
<g id="HSPA6"><circle class="rd" cx="535" cy="608" r="8.3"/><text x="535" y="608">HSPA6</text></g>
<g id="CST7"><circle class="rm" cx="680" cy="618" r="8.3"/><text x="680" y="618">CST7</text></g>
<g id="STK10"><circle class="rl" cx="570" cy="633" r="8.3"/><text x="570" y="633">STK10</text></g>
<g id="PNP"><circle class="rm" cx="533" cy="641" r="8.3"/><text x="533" y="641">PNP</text></g>
<g id="MX2"><circle class="rm" cx="529" cy="660" r="8.3"/><text x="529" y="660">MX2</text></g>
<g id="PIK3CD"><circle class="rm" cx="571" cy="663" r="8.3"/><text x="571" y="663">PIK3CD</text></g>
<g id="APOBEC3C"><circle class="rl" cx="672" cy="659" r="8.3"/><text x="672" y="659">APOBEC3C</text></g>
<g id="PTK2B"><circle class="rl" cx="595" cy="679" r="8.3"/><text x="595" y="679">PTK2B</text></g>
<g id="TRIM58"><circle class="rl" cx="514" cy="688" r="8.3"/><text x="514" y="688">TRIM58</text></g>
<g id="AP1G1"><circle class="rm" cx="559" cy="691" r="8.3"/><text x="559" y="691">AP1G1</text></g>
<g id="CD4"><circle class="rd" cx="507" cy="716" r="8.3"/><text x="507" y="716">CD4</text></g>
<g id="COTL1"><circle class="rl" cx="543" cy="712" r="8.3"/><text x="543" y="712">COTL1</text></g>
<g id="SUMO1"><circle class="rl" cx="577" cy="720" r="8.3"/><text x="577" y="720">SUMO1</text></g>
<g id="hsa-miR-6764"><use xlink:href="#tri" x="131" y="524" class="hg"/><text class="hl" x="131" y="524">hsa-miR-6764</text></g>
<g id="hsa-miR-1226"><use xlink:href="#tri" x="372" y="473" class="hg"/><text class="hl" x="372" y="473">hsa-miR-1226</text></g>
<g id="hsa-miR-6748"><use xlink:href="#tri" x="486" y="484" class="hg"/><text class="hl" x="486" y="484">hsa-miR-6748</text></g>
<g id="hsa-miR-1225"><use xlink:href="#tri" x="442" y="624" class="hg"/><text class="hl" x="442" y="624">hsa-miR-1225</text></g>
<g id="hsa-miR-1182"><use xlink:href="#tri" x="632" y="630" class="hg"/><text class="hl" x="632" y="630">hsa-miR-1182</text></g>
<g id="hsa-miR-7-1"><use xlink:href="#tri" x="193" y="689" class="hg"/><text class="hl" x="193" y="689">hsa-miR-7-1</text></g>
<g id="hsa-miR-7111"><use xlink:href="#tri" x="417" y="762" class="hg"/><text class="hl" x="417" y="762">hsa-miR-7111</text></g>
</g>
<g id="legend">
<rect x="623" y="317" width="17.5" height="17" rx="3" fill="#fff" stroke="#8a8a8a" stroke-width="0.8"/>
<text class="lg" x="649" y="326">lncRNA</text>
<path d="M631 343L621.5 363H641Z" fill="#fff" stroke="#8a8a8a" stroke-width="0.8"/>
<text class="lg" x="649" y="358">miRNA</text>
<circle cx="631" cy="386" r="9.3" fill="#fff" stroke="#8a8a8a" stroke-width="0.8"/>
<text class="lg" x="650" y="388">mRNA</text>
<rect x="618" y="410" width="95" height="8" fill="url(#cb)"/>
<text class="lg" x="609" y="414.5" style="text-anchor:middle">-2</text>
<text class="lg" x="664" y="413.5" style="text-anchor:middle">0</text>
<text class="lg" x="719" y="414.5" style="text-anchor:middle">2</text>
<text class="lg" x="643" y="431">Log</text>
<text class="lg" x="663" y="435" style="font-size:6.5px">2</text>
<text class="lg" x="670" y="431">FC</text>
</g>
</svg>
